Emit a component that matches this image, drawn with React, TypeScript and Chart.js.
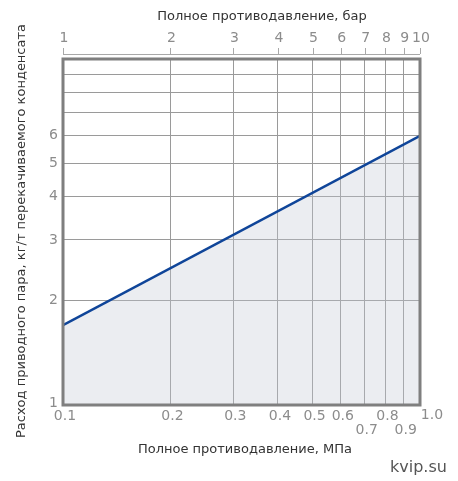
import { useEffect, useRef } from 'react';
import { Chart, registerables } from 'chart.js';
import type { Plugin } from 'chart.js';

Chart.register(...registerables);

// back pressure, MPa (bottom axis) and motive steam use, kg/t of pumped condensate
const pressureMPa = [0.1, 1.0];
const steamUse = [1.7, 6.0];

const xGrid = [0.1, 0.2, 0.3, 0.4, 0.5, 0.6, 0.7, 0.8, 0.9, 1.0];
const xTickLabels = ['0.1', '0.2', '0.3', '0.4', '0.5', '0.6', '0.7', '0.8', '0.9', '1.0'];
const xLowerRow = ['0.7', '0.9'];
const yGrid = [1, 2, 3, 4, 5, 6, 7, 8, 9, 10];
const yTickLabels = ['1', '2', '3', '4', '5', '6'];
const barTicks = [1, 2, 3, 4, 5, 6, 7, 8, 9, 10];

const TITLE_TOP = 'Полное противодавление, бар';
const TITLE_BOTTOM = 'Полное противодавление, МПа';
const TITLE_Y = 'Расход приводного пара, кг/т перекачиваемого конденсата';
const WATERMARK = 'kvip.su';

const FONT = '"DejaVu Sans", Verdana, sans-serif';
const TICK_COLOR = '#8c8c8c';
const TITLE_COLOR = '#333333';

const decorations: Plugin<'line'> = {
  id: 'decorations',
  afterDatasetsDraw(chart) {
    const { ctx, chartArea: a } = chart;
    ctx.save();
    ctx.strokeStyle = '#7f7f7f';
    ctx.lineWidth = 3;
    ctx.strokeRect(a.left, a.top, a.right - a.left, a.bottom - a.top);
    ctx.restore();
  },
  afterDraw(chart) {
    const { ctx, chartArea: a } = chart;
    const x = chart.scales.x;
    const y = chart.scales.y;
    ctx.save();

    // top ruler in bar
    const rulerY = a.top - 5;
    ctx.strokeStyle = '#a8a8a8';
    ctx.lineWidth = 1;
    ctx.beginPath();
    ctx.moveTo(a.left, rulerY + 0.5);
    ctx.lineTo(a.right, rulerY + 0.5);
    barTicks.forEach(b => {
      const px = Math.round(x.getPixelForValue(b / 10)) + 0.5;
      ctx.moveTo(px, rulerY);
      ctx.lineTo(px, rulerY - 6);
    });
    ctx.stroke();

    ctx.font = `14px ${FONT}`;
    ctx.fillStyle = TICK_COLOR;
    ctx.textAlign = 'center';
    ctx.textBaseline = 'middle';
    barTicks.forEach(b => {
      ctx.fillText(String(b), x.getPixelForValue(b / 10) + 1, 38);
    });

    // bottom MPa labels, two staggered rows
    xGrid.forEach((v, i) => {
      const lbl = xTickLabels[i];
      const lower = xLowerRow.includes(lbl);
      let px = x.getPixelForValue(v) + 2;
      if (i === xGrid.length - 1) px += 10;
      const py = lower ? 430 : i === xGrid.length - 1 ? 415 : 416;
      ctx.fillText(lbl, px, py);
    });

    // y labels
    ctx.textAlign = 'right';
    yTickLabels.forEach(l => {
      const py = y.getPixelForValue(Number(l));
      ctx.fillText(l, a.left - 5, l === '1' ? py - 2 : py);
    });

    // titles
    ctx.fillStyle = TITLE_COLOR;
    ctx.font = `13px ${FONT}`;
    ctx.textAlign = 'center';
    ctx.fillText(TITLE_TOP, 262, 17);
    ctx.fillText(TITLE_BOTTOM, 245, 450);
    ctx.save();
    ctx.translate(22, 231);
    ctx.rotate(-Math.PI / 2);
    ctx.fillText(TITLE_Y, 0, 0);
    ctx.restore();

    ctx.fillStyle = '#555555';
    ctx.font = `16px ${FONT}`;
    ctx.textAlign = 'left';
    ctx.textBaseline = 'alphabetic';
    ctx.fillText(WATERMARK, 390, 472);
    ctx.restore();
  },
};

function SteamChart(): JSX.Element {
  const canvasRef = useRef<HTMLCanvasElement>(null);

  useEffect(() => {
    if (!canvasRef.current) return;
    const chart = new Chart(canvasRef.current, {
      type: 'line',
      data: {
        datasets: [
          {
            data: pressureMPa.map((p, i) => ({ x: p, y: steamUse[i] })),
            borderColor: '#0f4599',
            borderWidth: 2.5,
            backgroundColor: 'rgba(195,200,212,0.33)',
            fill: 'start',
            pointRadius: 0,
            tension: 0,
          },
        ],
      },
      options: {
        responsive: false,
        animation: false,
        layout: { padding: { left: 63, right: 38, top: 59, bottom: 76 } },
        plugins: { legend: { display: false }, tooltip: { enabled: false } },
        scales: {
          x: {
            type: 'logarithmic',
            min: 0.1,
            max: 1,
            afterBuildTicks: s => { s.ticks = xGrid.map(v => ({ value: v })); },
            ticks: { display: false },
            grid: { color: '#9a9a9a', lineWidth: 1, drawTicks: false },
            border: { display: false },
          },
          y: {
            type: 'logarithmic',
            min: 1,
            max: 10,
            afterBuildTicks: s => { s.ticks = yGrid.map(v => ({ value: v })); },
            ticks: { display: false },
            grid: { color: '#9a9a9a', lineWidth: 1, drawTicks: false },
            border: { display: false },
          },
        },
      },
      plugins: [decorations],
    });
    return () => { chart.destroy(); };
  }, []);

  return (
    <div style={{ position: 'absolute', left: 0, top: 0, width: 458, height: 481, background: '#fff' }}>
      <canvas
        ref={canvasRef}
        width={458}
        height={481}
        role="img"
        aria-label="Расход приводного пара в зависимости от полного противодавления"
      />
    </div>
  );
}

export default function App(): JSX.Element {
  return <SteamChart />;
}
